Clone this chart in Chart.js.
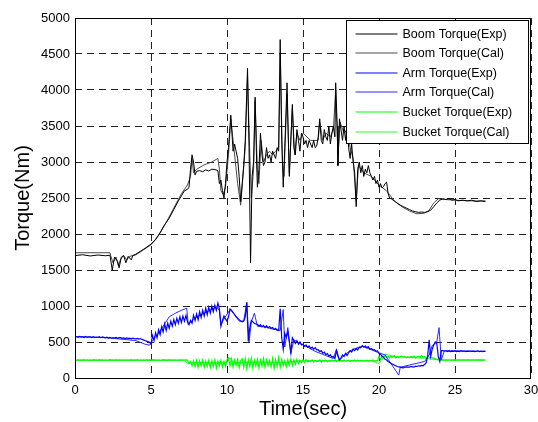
<!DOCTYPE html>
<html>
<head>
<meta charset="utf-8">
<script src="https://cdn.jsdelivr.net/npm/chart.js@4.4.1/dist/chart.umd.min.js"></script>
<style>
  html, body { margin: 0; padding: 0; background: #fff; }
</style>
</head>
<body>
<canvas id="torqueChart" width="538" height="422"></canvas>
<script>
// boom torque, [time(sec), torque(Nm)]
const boomExp = [
  [0,1700],[0.5,1712],[1.0,1695],[1.5,1708],[2.0,1698],[2.3,1705],[2.45,1500],[2.6,1680],[2.8,1620],[2.9,1530],
  [3.05,1680],[3.2,1700],[3.35,1600],[3.5,1690],[3.7,1640],[3.8,1700],[4.0,1720],[4.3,1760],[4.6,1800],[5.0,1860],
  [5.3,1920],[5.6,2020],[5.9,2130],[6.2,2220],[6.5,2340],[6.8,2460],[7.0,2530],[7.2,2600],[7.4,2620],[7.5,2650],
  [7.6,2900],[7.7,3100],[7.8,3000],[7.9,2820],[8.0,2870],[8.2,2880],[8.4,2865],[8.6,2890],[8.8,2875],[9.0,2900],
  [9.2,2895],[9.4,2880],[9.5,2700],[9.6,2750],[9.7,2600],[9.8,2500],[9.9,2700],[10.0,3000],[10.1,3200],[10.25,3650],
  [10.4,3150],[10.5,3250],[10.6,3150],[10.7,3050],[10.8,2800],[10.9,2450],[11.0,2700],[11.1,2950],[11.2,3300],[11.35,4300],
  [11.45,3200],[11.55,1600],[11.65,2800],[11.75,3000],[11.85,3900],[11.95,3000],[12.0,2650],[12.1,2900],[12.2,3400],[12.3,3100],
  [12.4,2950],[12.5,3000],[12.6,3200],[12.7,3050],[12.8,3100],[12.9,3000],[13.0,3150],[13.1,3100],[13.2,3050],[13.3,3200],
  [13.4,3150],[13.5,4700],[13.6,3300],[13.7,2650],[13.8,3200],[13.95,4100],[14.05,3200],[14.1,2800],[14.2,3300],[14.3,3800],
  [14.4,3200],[14.5,3100],[14.6,3450],[14.7,3300],[14.8,3150],[14.9,3400],[15.0,3350],[15.1,3250],[15.2,3300],[15.3,3200],
  [15.4,3300],[15.5,3250],[15.6,3200],[15.7,3300],[15.8,3200],[15.9,3220],[16.0,3350],[16.1,3600],[16.2,3300],[16.3,3250],
  [16.4,3450],[16.5,3350],[16.6,3300],[16.7,3500],[16.8,3250],[16.9,3400],[17.0,3500],[17.1,3350],[17.15,4100],[17.25,3500],
  [17.3,2950],[17.4,3600],[17.5,3450],[17.6,3300],[17.7,3500],[17.8,3300],[17.9,3550],[18.0,3200],[18.1,3050],[18.2,3250],
  [18.3,3000],[18.4,2850],[18.5,2380],[18.6,2900],[18.7,3000],[18.8,2850],[18.9,2950],[19.0,2800],[19.1,2900],[19.2,2850],
  [19.3,2950],[19.4,2850],[19.5,2800],[19.6,2750],[19.7,2800],[19.8,2700],[19.9,2750],[20.0,2650],[20.1,2700],[20.2,2640],
  [20.3,2660],[20.4,2700],[20.5,2720],[20.6,2560],[20.7,2500],[20.8,2490],[21.0,2460],[21.2,2430],[21.4,2400],[21.6,2380],
  [21.8,2360],[22.0,2340],[22.2,2320],[22.4,2310],[22.6,2300],[22.8,2305],[23.0,2300],[23.2,2310],[23.4,2330],[23.6,2380],
  [23.8,2430],[24.0,2470],[24.2,2490],[24.4,2480],[24.6,2490],[24.8,2470],[25.0,2480],[25.2,2460],[25.5,2470],[25.8,2460],
  [26.1,2470],[26.4,2450],[26.7,2460],[27.0,2450]
];
const boomCal = [
  [0,1740],[2.3,1740],[2.35,1700],[2.5,1600],[2.7,1680],[2.85,1560],[3.0,1650],[3.2,1700],[3.4,1640],[3.6,1690],
  [4.0,1710],[4.5,1780],[5.0,1850],[5.5,1980],[6.0,2160],[6.5,2360],[7.0,2560],[7.4,2680],[7.6,2800],[7.7,3050],
  [7.8,2850],[8.0,2900],[8.5,2960],[9.0,3000],[9.4,3050],[9.5,2900],[9.6,2600],[9.75,2550],[9.9,2650],[10.1,3100],
  [10.25,3600],[10.4,3300],[10.55,3000],[10.7,2700],[10.9,2400],[11.05,2800],[11.2,3200],[11.35,4200],[11.5,3100],[11.6,2500],
  [11.75,2900],[11.85,3850],[12.0,2900],[12.1,2700],[12.25,3300],[12.4,3000],[12.6,3100],[12.8,3150],[13.0,3100],[13.2,3150],
  [13.4,3200],[13.5,4500],[13.65,3000],[13.75,2800],[13.95,3950],[14.1,2850],[14.3,3750],[14.45,3100],[14.6,3400],[14.8,3300],
  [15.0,3400],[15.5,3300],[16.0,3300],[16.1,3550],[16.3,3300],[16.5,3400],[16.8,3350],[17.0,3450],[17.15,4000],[17.3,3100],
  [17.45,3550],[17.7,3400],[17.9,3450],[18.1,3200],[18.3,3050],[18.5,2450],[18.65,2950],[19.0,2850],[19.5,2800],[20.0,2680],
  [20.5,2600],[21.0,2460],[21.5,2380],[22.0,2320],[22.5,2280],[23.0,2290],[23.3,2330],[23.6,2430],[23.9,2490],[24.3,2480],
  [25.0,2470],[26.0,2460],[27.0,2460]
];

// measured arm / bucket torque, logged every 0.1 s from t = 0 to 27 s (one row per second)
const sampleStep = 0.1;
const armExp = [
  570,576,565,578,568,574,562,576,566,572,
  572,563,575,561,569,566,574,560,570,564,
  558,567,556,565,553,562,556,564,552,560,
  560,551,558,548,556,547,554,545,553,546,
  543,551,540,548,536,530,520,512,505,498,
  470,590,520,630,560,670,600,710,640,750,
  660,760,690,790,720,810,740,830,760,850,
  770,860,790,870,780,740,800,760,870,800,
  890,810,920,840,940,860,970,880,980,900,
  1000,920,1010,940,1040,960,720,800,860,820,
  790,850,960,940,910,880,850,830,810,790,
  780,790,850,1050,510,700,800,780,760,750,
  745,720,740,710,730,700,725,695,715,690,
  700,675,690,665,660,960,560,400,620,560,
  640,500,350,560,520,480,520,470,500,460,
  470,440,460,425,445,410,430,400,420,390,
  395,365,380,345,360,325,340,305,320,290,
  300,270,380,300,250,280,320,300,340,310,
  350,380,360,400,380,410,390,430,420,450,
  430,445,420,435,400,410,390,395,370,375,
  340,330,300,290,260,250,230,215,200,190,
  180,170,160,155,150,145,140,150,155,150,
  150,160,155,150,165,160,170,165,175,170,
  190,210,300,530,300,400,460,500,480,300,
  230,380,380,372,378,368,376,366,374,370,
  376,368,374,366,378,370,375,368,373,371,
  375,369,373,366,372,378,368,374,366,372,
  370
];
const bucketExp = [
  252,247,255,246,251,249,256,247,253,245,
  251,247,255,249,252,246,254,248,251,247,
  253,245,250,256,248,251,246,254,249,252,
  248,253,246,251,249,252,247,255,246,251,
  249,256,247,253,245,251,247,255,249,252,
  246,254,248,251,247,253,245,250,256,248,
  251,246,254,249,252,248,253,246,251,249,
  252,250,248,251,249,200,230,170,240,160,
  245,150,240,170,250,150,235,160,245,145,
  240,160,250,140,235,165,245,150,230,160,
  255,280,170,265,150,250,175,260,145,240,
  265,145,270,130,255,160,275,140,250,165,
  260,140,250,165,270,150,255,170,245,155,
  270,135,255,160,285,150,260,170,240,155,
  255,175,265,170,250,190,260,200,245,210,
  250,215,255,225,240,230,252,222,245,230,
  230,250,220,245,232,248,225,240,230,250,
  235,245,228,250,238,244,232,250,240,236,
  248,230,245,235,250,232,246,238,244,234,
  240,236,248,232,244,238,250,235,242,238,
  300,260,310,280,320,285,305,275,300,290,
  310,280,295,285,300,305,290,300,280,295,
  285,300,290,305,280,295,300,285,310,290,
  295,280,300,285,290,275,280,265,260,255,
  250,248,252,247,251,249,253,246,250,248,
  252,247,251,249,250,248,252,247,251,249,
  250,248,253,247,251,249,252,248,250,249,
  250
];

// calculated arm / bucket torque, [time(sec), torque(Nm)]
const armCal = [
  [0,575],[2,560],[4,520],[4.6,470],[4.9,455],[5.1,520],[5.5,620],[5.8,720],[6.2,850],[6.6,900],
  [7.0,940],[7.35,970],[7.45,740],[7.8,820],[8.3,880],[8.8,930],[9.3,990],[9.5,940],[9.6,740],[9.8,820],
  [10.2,950],[10.5,880],[10.8,790],[11.1,790],[11.3,1050],[11.45,500],[11.6,780],[11.8,900],[12.0,720],[12.5,710],
  [13.0,680],[13.5,660],[13.7,950],[13.8,430],[14.0,700],[14.2,340],[14.4,530],[14.8,480],[15.3,430],[15.8,370],
  [16.4,320],[17.0,270],[17.2,400],[17.4,250],[17.9,350],[18.3,400],[18.9,440],[19.4,400],[20.0,350],[20.4,320],
  [21.3,40],[21.4,150],[22.0,180],[23.0,230],[23.3,320],[23.5,450],[23.8,500],[23.95,700],[24.1,250],[24.3,380],
  [27,370]
];
const bucketCal = [
  [0,245],[7.2,245],[7.4,200],[8,215],[9,210],[10,220],[10.2,280],[10.4,210],[12,220],[14,215],
  [14.5,235],[15,240],[19.5,240],[20,200],[20.4,330],[21,300],[22,285],[23,275],[23.5,260],[24,250],
  [27,250]
];

const seriesLabels = ['Boom Torque(Exp)', 'Boom Torque(Cal)', 'Arm Torque(Exp)', 'Arm Torque(Cal)', 'Bucket Torque(Exp)', 'Bucket Torque(Cal)'];
const seriesColors = ['#000000', '#4a4a4a', '#0000ff', '#2a2aff', '#00ff00', '#2aff2a'];
const xTicks = [0, 5, 10, 15, 20, 25, 30];
const yTicks = [0, 500, 1000, 1500, 2000, 2500, 3000, 3500, 4000, 4500, 5000];

const fromPairs = pairs => pairs.map(([x, y]) => ({ x, y }));
const fromSamples = vals => vals.map((y, i) => ({ x: Math.round(i * sampleStep * 10) / 10, y }));

const FONT = 'Arial, "Liberation Sans", Helvetica, sans-serif';

function line(i, data, width) {
  return {
    label: seriesLabels[i], data,
    borderColor: seriesColors[i], backgroundColor: seriesColors[i],
    borderWidth: width, pointRadius: 0, tension: 0, fill: false
  };
}

// matlab style box around the axes + legend box in the upper right corner
const boxLegend = {
  id: 'boxLegend',
  afterDraw(chart) {
    const { ctx, chartArea: a } = chart;
    ctx.save();
    ctx.strokeStyle = '#000';
    ctx.lineWidth = 1;
    ctx.setLineDash([]);
    const l = Math.round(a.left) + 0.5, t = Math.round(a.top) + 0.5;
    const r = Math.round(a.right) - 0.5, b = Math.round(a.bottom) + 0.5;
    ctx.strokeRect(l, t, r - l, b - t);

    const w = 182, h = 123;
    const bx = r - 2 - w, by = t + 2;
    ctx.fillStyle = '#fff';
    ctx.fillRect(bx, by, w, h);
    ctx.strokeStyle = '#000';
    ctx.strokeRect(bx, by, w, h);
    ctx.font = '12.5px ' + FONT;
    ctx.textBaseline = 'middle';
    ctx.textAlign = 'left';
    seriesLabels.forEach((label, i) => {
      const y = Math.round(by + 13 + i * 19.6);
      ctx.strokeStyle = seriesColors[i];
      ctx.beginPath();
      ctx.moveTo(bx + 9, y);
      ctx.lineTo(bx + 51, y);
      ctx.stroke();
      ctx.fillStyle = '#000';
      ctx.fillText(label, bx + 56, y + 1);
    });
    ctx.restore();
  }
};

new Chart(document.getElementById('torqueChart'), {
  type: 'line',
  data: {
    datasets: [
      line(0, fromPairs(boomExp), 1),
      line(1, fromPairs(boomCal), 1),
      line(2, fromSamples(armExp), 1.2),
      line(3, fromPairs(armCal), 1),
      line(4, fromSamples(bucketExp), 1.2),
      line(5, fromPairs(bucketCal), 1)
    ]
  },
  options: {
    responsive: false,
    animation: false,
    layout: { padding: { top: 18, right: 0, left: 0, bottom: 0 } },
    plugins: { legend: { display: false }, tooltip: { enabled: false } },
    scales: {
      x: {
        type: 'linear',
        min: 0,
        max: 30,
        afterFit: s => { s.height = 44; s.paddingLeft = 0; s.paddingRight = 7; },
        afterBuildTicks: s => { s.ticks = xTicks.map(v => ({ value: v })); },
        ticks: { color: '#000', font: { family: FONT, size: 13 }, padding: 5, maxRotation: 0, callback: v => String(v) },
        grid: { color: '#222', drawTicks: false },
        border: { display: false, dash: [7, 5] },
        title: { display: true, text: 'Time(sec)', color: '#000', font: { family: FONT, size: 20 }, padding: { top: 0, bottom: 1 } }
      },
      y: {
        min: 0,
        max: 5000,
        afterFit: s => { s.width = 75; s.paddingTop = 0; s.paddingBottom = 0; },
        afterBuildTicks: s => { s.ticks = yTicks.map(v => ({ value: v })); },
        ticks: { color: '#000', font: { family: FONT, size: 13 }, padding: 5, callback: v => String(v) },
        grid: { color: '#222', drawTicks: false },
        border: { display: false, dash: [7, 5] },
        title: { display: true, text: 'Torque(Nm)', color: '#000', font: { family: FONT, size: 20 }, padding: { top: 11, bottom: 0 } }
      }
    }
  },
  plugins: [boxLegend]
});
</script>
</body>
</html>
